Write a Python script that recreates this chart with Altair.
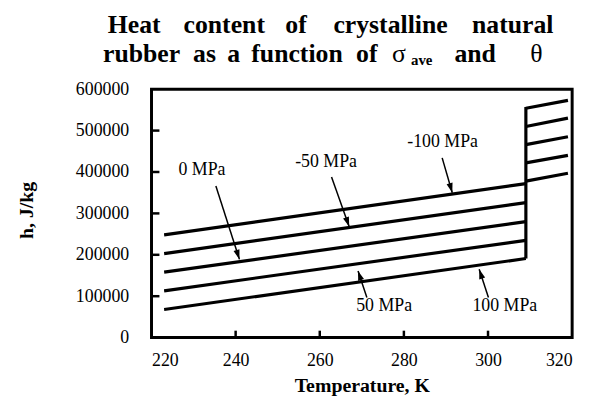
import math
import altair as alt
import pandas as pd

# ---------------- data ----------------
stress_labels = ["-100 MPa", "-50 MPa", "0 MPa", "50 MPa", "100 MPa"]
T_solid = [223, 309]
T_melt = [309, 319]
h_solid_start = [248000, 203000, 158000, 113000, 68000]
h_solid_end = [372000, 326000, 280000, 235000, 191000]
h_melt_start = [554000, 510000, 466000, 422000, 378000]
h_melt_end = [573000, 530000, 485000, 440000, 397000]
jump_T = 309
jump_h = [191000, 557000]

x_ticks = [220, 240, 260, 280, 300, 320]
y_ticks = [0, 100000, 200000, 300000, 400000, 500000, 600000]

ann_text = ["0 MPa", "-50 MPa", "-100 MPa", "50 MPa", "100 MPa"]
ann_T = [232, 261.5, 289.2, 275.3, 304]
ann_h = [404000, 423000, 471600, 77000, 77000]
arrow_T0 = [235.3, 262.8, 289.1, 271.2, 300.1]
arrow_h0 = [366000, 388000, 434000, 97000, 97000]
arrow_T1 = [240.9, 267.0, 291.5, 269.1, 297.9]
arrow_h1 = [189000, 268000, 350000, 161000, 165000]

title_line1 = ["Heat", "content", "of", "crystalline", "natural"]
title_line2 = ["rubber", "as", "a", "function", "of"]

W, H = 425, 251
XD = [220, 320]
YD = [0, 600000]

# ---------------- tables ----------------
rows = []
for i, s in enumerate(stress_labels):
    rows.append({"seg": f"solid {s}", "o": 0, "T": T_solid[0], "h": h_solid_start[i]})
    rows.append({"seg": f"solid {s}", "o": 1, "T": T_solid[1], "h": h_solid_end[i]})
    rows.append({"seg": f"melt {s}", "o": 0, "T": T_melt[0], "h": h_melt_start[i]})
    rows.append({"seg": f"melt {s}", "o": 1, "T": T_melt[1], "h": h_melt_end[i]})
rows.append({"seg": "jump", "o": 0, "T": jump_T, "h": jump_h[0]})
rows.append({"seg": "jump", "o": 1, "T": jump_T, "h": jump_h[1]})
lines_df = pd.DataFrame(rows)

def ang(t0, h0, t1, h1):
    dx = (t1 - t0) * W / (XD[1] - XD[0])
    dy = -(h1 - h0) * H / (YD[1] - YD[0])
    return math.degrees(math.atan2(dx, -dy)) % 360

ann_df = pd.DataFrame({"label": ann_text, "T": ann_T, "h": ann_h})
arr_df = pd.DataFrame({
    "T0": arrow_T0, "h0": arrow_h0, "T1": arrow_T1, "h1": arrow_h1,
    "ang": [ang(a, b, c, d) for a, b, c, d in zip(arrow_T0, arrow_h0, arrow_T1, arrow_h1)],
})

xs = alt.Scale(domain=XD, nice=False, zero=False)
ys = alt.Scale(domain=YD, nice=False)

SERIF = "Liberation Serif"

base_x = alt.X("T:Q", scale=xs,
               axis=alt.Axis(values=x_ticks, format="d", title="Temperature, K",
                             titleX=W / 2, titleY=48, titleBaseline="middle",
                             titleFontSize=20))
base_y = alt.Y("h:Q", scale=ys,
               axis=alt.Axis(values=y_ticks, format="d", title="h, J/kg",
                             titleX=-126, titleY=122, titleBaseline="middle",
                             titleAngle=270))

lines = alt.Chart(lines_df).mark_line(color="black", strokeWidth=3.2, strokeCap="butt").encode(
    x=base_x, y=base_y, detail="seg:N", order="o:Q")

ytick_df = pd.DataFrame({"v": y_ticks[1:-1]})
xtick_df = pd.DataFrame({"v": x_ticks[1:-1]})
yt = alt.Chart(ytick_df).mark_rule(color="black", strokeWidth=2.5).encode(
    y=alt.Y("v:Q", scale=ys), x=alt.value(0), x2=alt.value(8))
xt = alt.Chart(xtick_df).mark_rule(color="black", strokeWidth=2.5).encode(
    x=alt.X("v:Q", scale=xs), y=alt.value(H), y2=alt.value(H - 7))

labels = alt.Chart(ann_df).mark_text(font=SERIF, fontSize=18, color="black").encode(
    x=alt.X("T:Q", scale=xs), y=alt.Y("h:Q", scale=ys), text="label:N")

shafts = alt.Chart(arr_df).mark_rule(color="black", strokeWidth=1.5).encode(
    x=alt.X("T0:Q", scale=xs), y=alt.Y("h0:Q", scale=ys),
    x2="T1:Q", y2="h1:Q")
heads = alt.Chart(arr_df).mark_point(
    shape="M0,0L0.32,1L-0.32,1Z", filled=True, color="black", size=380, opacity=1
).encode(x=alt.X("T1:Q", scale=xs), y=alt.Y("h1:Q", scale=ys),
         angle=alt.Angle("ang:Q", scale=None))

# title pieces (positions in plot pixels, relative to the plot's top-left corner)
def ttext(txt, x, y, size, bold=True, align="center"):
    return alt.Chart(pd.DataFrame({"t": [txt]})).mark_text(
        font=SERIF, fontSize=size, fontWeight="bold" if bold else "normal",
        align=align, baseline="alphabetic", color="black"
    ).encode(x=alt.value(x), y=alt.value(y), text="t:N")

line1_x = [-17.5, 73.5, 146, 241.5, 365]
line2_x = [-10, 53.5, 83, 147, 217.5]
title_parts = [ttext(w, x, -57, 26) for w, x in zip(title_line1, line1_x)]
title_parts += [ttext(w, x, -27, 26) for w, x in zip(title_line2, line2_x)]
title_parts += [
    ttext("σ", 250, -27, 26, bold=False),
    ttext("ave", 273, -24, 15),
    ttext("and", 327, -27, 26),
    ttext("θ", 389, -27, 26, bold=False),
]

chart = alt.layer(lines, yt, xt, shafts, heads, labels, *title_parts).properties(
    width=W, height=H,
    autosize=alt.AutoSizeParams(type="none"),
    padding={"left": 145, "top": 80, "right": 14, "bottom": 60},
).configure_view(stroke="black", strokeWidth=3).configure_axis(
    grid=False, domain=False, ticks=False, tickSize=0,
    labelFont=SERIF, labelFontSize=18, labelColor="black",
    titleFont=SERIF, titleFontSize=20, titleFontWeight="bold", titleColor="black",
).configure_axisY(labelPadding=23).configure_axisX(labelPadding=14)

chart.save("out.html", embed_options={"renderer": "svg", "actions": False})
